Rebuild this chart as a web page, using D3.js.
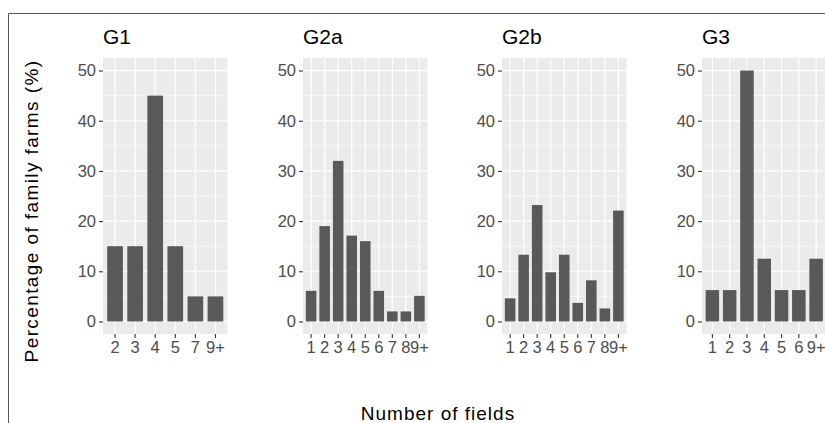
<!DOCTYPE html>
<html>
<head>
<meta charset="utf-8">
<script src="https://cdn.jsdelivr.net/npm/d3@7"></script>
<style>
    body { margin: 0; background: #fff; }
    svg { display: block; font-family: "Liberation Sans", Arial, sans-serif; }
</style>
</head>
<body>
<svg id="chart" width="825" height="423"></svg>
<script>
// Data (percentage of family farms per number of fields)
var groups = ["G1", "G2a", "G2b", "G3"];
var g1Fields = ["2", "3", "4", "5", "7", "9+"];
var g1Values = [15, 15, 45, 15, 5, 5];
var g2aFields = ["1", "2", "3", "4", "5", "6", "7", "8", "9+"];
var g2aValues = [6.1, 19, 32, 17.1, 16, 6.1, 2, 2, 5.1];
var g2bFields = ["1", "2", "3", "4", "5", "6", "7", "8", "9+"];
var g2bValues = [4.6, 13.3, 23.2, 9.8, 13.3, 3.7, 8.2, 2.6, 22.1];
var g3Fields = ["1", "2", "3", "4", "5", "6", "9+"];
var g3Values = [6.25, 6.25, 50, 12.5, 6.25, 6.25, 12.5];
var yTicks = [0, 10, 20, 30, 40, 50];
var yMinor = [5, 15, 25, 35, 45];

var panels = [
    {name: groups[0], fields: g1Fields, values: g1Values},
    {name: groups[1], fields: g2aFields, values: g2aValues},
    {name: groups[2], fields: g2bFields, values: g2bValues},
    {name: groups[3], fields: g3Fields, values: g3Values}
];

var svg = d3.select("#chart");
var panelLeft = [103, 303, 502, 702];
var panelW = 124.5, panelTop = 58, panelBottom = 334;

// shared y scale, ggplot-like 5% expansion
var y = d3.scaleLinear().domain([-2.5, 52.5]).range([panelBottom, panelTop]);

// outer frame (top and left edge of the figure)
svg.append("line").attr("x1", 8.5).attr("x2", 825).attr("y1", 13.5).attr("y2", 13.5)
    .attr("stroke", "#555").attr("stroke-width", 1);
svg.append("line").attr("x1", 8.5).attr("x2", 8.5).attr("y1", 13.5).attr("y2", 423)
    .attr("stroke", "#555").attr("stroke-width", 1);

panels.forEach(function (p, i) {
    var x0 = panelLeft[i];
    var x = d3.scaleBand().domain(p.fields)
        .range([x0, x0 + panelW]).paddingInner(0.22).paddingOuter(0.21);
    var g = svg.append("g");

    g.append("rect").attr("x", x0).attr("y", panelTop)
        .attr("width", panelW).attr("height", panelBottom - panelTop)
        .attr("fill", "#EBEBEB");

    // grid
    g.selectAll(".minor").data(yMinor).enter().append("line")
        .attr("x1", x0).attr("x2", x0 + panelW)
        .attr("y1", d => y(d)).attr("y2", d => y(d))
        .attr("stroke", "#fff").attr("stroke-width", 0.6);
    g.selectAll(".major").data(yTicks).enter().append("line")
        .attr("x1", x0).attr("x2", x0 + panelW)
        .attr("y1", d => y(d)).attr("y2", d => y(d))
        .attr("stroke", "#fff").attr("stroke-width", 1.2);
    g.selectAll(".vgrid").data(p.fields).enter().append("line")
        .attr("x1", d => x(d) + x.bandwidth() / 2).attr("x2", d => x(d) + x.bandwidth() / 2)
        .attr("y1", panelTop).attr("y2", panelBottom)
        .attr("stroke", "#fff").attr("stroke-width", 1.2);

    // bars
    g.selectAll(".bar").data(p.fields).enter().append("rect")
        .attr("x", d => x(d))
        .attr("width", x.bandwidth())
        .attr("y", (d, k) => y(p.values[k]))
        .attr("height", (d, k) => y(0) - y(p.values[k]))
        .attr("fill", "#595959");

    // axes
    var ya = g.append("g").attr("transform", "translate(" + x0 + ",0)")
        .call(d3.axisLeft(y).tickValues(yTicks).tickSize(4).tickPadding(3));
    var xa = g.append("g").attr("transform", "translate(0," + panelBottom + ")")
        .call(d3.axisBottom(x).tickSize(4).tickPadding(3));
    [ya, xa].forEach(function (a) {
        a.select(".domain").remove();
        a.selectAll(".tick line").attr("stroke", "#333").attr("stroke-width", 1.1);
        a.selectAll(".tick text").attr("fill", "#4D4D4D")
            .style("font-size", "16.5px").style("font-family", "Liberation Sans, Arial, sans-serif");
    });

    // panel title
    g.append("text").attr("x", x0).attr("y", 43.5)
        .attr("fill", "#000").style("font-size", "21px")
        .text(p.name);
});

// axis titles
svg.append("text")
    .attr("transform", "translate(38,211) rotate(-90)")
    .attr("text-anchor", "middle")
    .style("font-size", "19px").style("letter-spacing", "1.4px")
    .attr("fill", "#000")
    .text("Percentage of family farms (%)");

svg.append("text")
    .attr("x", 438).attr("y", 420)
    .attr("text-anchor", "middle")
    .style("font-size", "19px").style("letter-spacing", "1px")
    .attr("fill", "#000")
    .text("Number of fields");
</script>
</body>
</html>
